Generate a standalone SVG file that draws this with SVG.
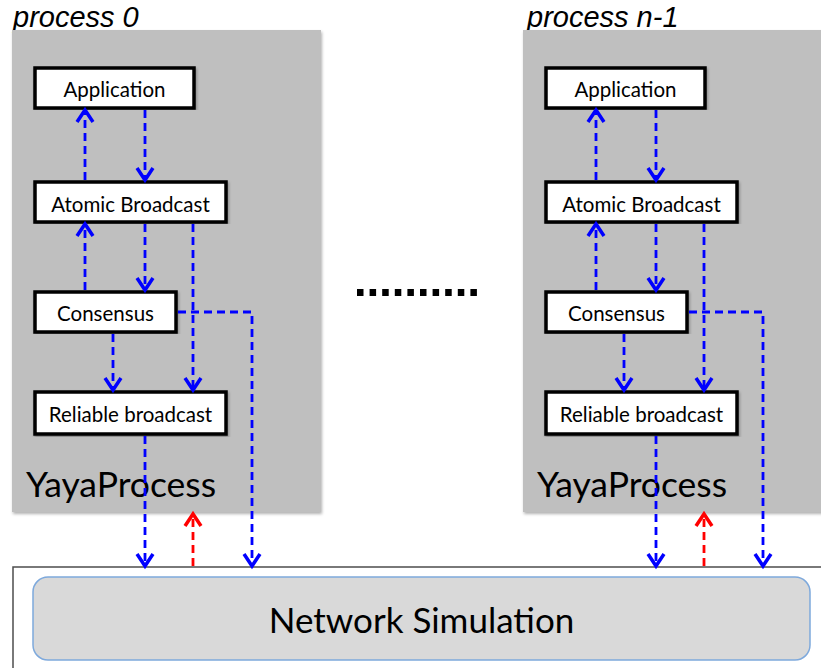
<svg xmlns="http://www.w3.org/2000/svg" width="821" height="668" viewBox="0 0 821 668">
  <defs>
    <style>
      .panel { fill: #bfbfbf; }
      .title { font-family: "Liberation Sans", Arial, sans-serif; font-style: italic; font-size: 29px; fill: #000; }
      .big { font-family: Lato, "Open Sans", sans-serif; font-size: 35.5px; fill: #000; }
      .box { fill: #fff; stroke: #000; stroke-width: 3.5; }
      .lbl { font-family: Lato, "Open Sans", sans-serif; font-size: 20.5px; fill: #000; text-anchor: middle; }
      .net-frame { fill: #fff; stroke: #4d4d4d; stroke-width: 1.5; }
      .net { fill: #d9d9d9; stroke: #7ea9dc; stroke-width: 1.5; }
      .net-lbl { font-family: Lato, "Open Sans", sans-serif; font-size: 35px; fill: #000; text-anchor: middle; }
      .blue { fill: none; stroke: #0000ff; stroke-width: 2.8; stroke-dasharray: 8 5; }
      .red { fill: none; stroke: #ff0000; stroke-width: 2.8; stroke-dasharray: 8 5; }
      .dots { stroke: #000; stroke-width: 7; stroke-dasharray: 6.5 6.1; }
    </style>
    <filter id="shadow" x="-5%" y="-5%" width="110%" height="110%">
      <feDropShadow dx="1" dy="2" stdDeviation="1.5" flood-color="#000" flood-opacity="0.3"/>
    </filter>
    <marker id="head-blue" markerUnits="userSpaceOnUse" viewBox="-14 -10 16 20" refX="0" refY="0" markerWidth="16" markerHeight="20" orient="auto" overflow="visible">
      <path d="M -12 -8 L 0 0 L -12 8" fill="none" stroke="#0000ff" stroke-width="3.5"/>
    </marker>
    <marker id="head-red" markerUnits="userSpaceOnUse" viewBox="-14 -10 16 20" refX="0" refY="0" markerWidth="16" markerHeight="20" orient="auto" overflow="visible">
      <path d="M -12 -8 L 0 0 L -12 8" fill="none" stroke="#ff0000" stroke-width="3.5"/>
    </marker>
  </defs>

  <rect width="821" height="668" fill="#fff"/>

  <!-- network simulation layer -->
  <g id="network">
    <rect class="net-frame" x="13" y="567" width="830" height="120"/>
    <rect class="net" x="33" y="577" width="777" height="83" rx="15" ry="15"/>
    <text class="net-lbl" x="421.5" y="633">Network Simulation</text>
  </g>

  <!-- process containers -->
  <g id="process-0">
    <text class="title" x="13" y="27">process 0</text>
    <rect class="panel" x="12" y="30" width="309" height="482" filter="url(#shadow)"/>
    <text class="big" x="26" y="497">YayaProcess</text>
  </g>
  <g id="process-n-1">
    <text class="title" x="527" y="27">process n-1</text>
    <rect class="panel" x="523" y="30" width="320" height="482" filter="url(#shadow)"/>
    <text class="big" x="537" y="497">YayaProcess</text>
  </g>

  <!-- ellipsis between processes -->
  <line class="dots" x1="357" y1="292.5" x2="480" y2="292.5"/>

  <!-- layers of process 0 -->
  <g id="p0-application">
    <rect class="box" x="35" y="68" width="159" height="40" filter="url(#shadow)"/>
    <text class="lbl" x="114.5" y="97">Application</text>
  </g>
  <g id="p0-atomic">
    <rect class="box" x="35" y="182" width="191" height="40" filter="url(#shadow)"/>
    <text class="lbl" x="130.5" y="211.5">Atomic Broadcast</text>
  </g>
  <g id="p0-consensus">
    <rect class="box" x="35" y="292" width="141" height="40" filter="url(#shadow)"/>
    <text class="lbl" x="105.5" y="320.5">Consensus</text>
  </g>
  <g id="p0-reliable">
    <rect class="box" x="35" y="392" width="191" height="42" filter="url(#shadow)"/>
    <text class="lbl" x="130.5" y="421.5">Reliable broadcast</text>
  </g>

  <!-- layers of process n-1 -->
  <g id="pn-application">
    <rect class="box" x="546" y="68" width="159" height="40" filter="url(#shadow)"/>
    <text class="lbl" x="625.5" y="97">Application</text>
  </g>
  <g id="pn-atomic">
    <rect class="box" x="546" y="182" width="191" height="40" filter="url(#shadow)"/>
    <text class="lbl" x="641.5" y="211.5">Atomic Broadcast</text>
  </g>
  <g id="pn-consensus">
    <rect class="box" x="546" y="292" width="141" height="40" filter="url(#shadow)"/>
    <text class="lbl" x="616.5" y="320.5">Consensus</text>
  </g>
  <g id="pn-reliable">
    <rect class="box" x="546" y="392" width="191" height="42" filter="url(#shadow)"/>
    <text class="lbl" x="641.5" y="421.5">Reliable broadcast</text>
  </g>

  <!-- message flows -->
  <g id="connectors">
    <!-- process 0 -->
    <path class="blue" d="M 85 180 L 85 110" marker-end="url(#head-blue)"/>
    <path class="blue" d="M 145 110 L 145 180" marker-end="url(#head-blue)"/>
    <path class="blue" d="M 85 290 L 85 224" marker-end="url(#head-blue)"/>
    <path class="blue" d="M 145 224 L 145 290" marker-end="url(#head-blue)"/>
    <path class="blue" d="M 193 224 L 193 390" marker-end="url(#head-blue)"/>
    <path class="blue" d="M 113 334 L 113 390" marker-end="url(#head-blue)"/>
    <path class="blue" d="M 178 312 L 252 312 L 252 566" marker-end="url(#head-blue)"/>
    <path class="blue" d="M 145 436 L 145 566" marker-end="url(#head-blue)"/>
    <path class="red" d="M 193 566 L 193 514" marker-end="url(#head-red)"/>
    <!-- process n-1 -->
    <path class="blue" d="M 596 180 L 596 110" marker-end="url(#head-blue)"/>
    <path class="blue" d="M 656 110 L 656 180" marker-end="url(#head-blue)"/>
    <path class="blue" d="M 596 290 L 596 224" marker-end="url(#head-blue)"/>
    <path class="blue" d="M 656 224 L 656 290" marker-end="url(#head-blue)"/>
    <path class="blue" d="M 704 224 L 704 390" marker-end="url(#head-blue)"/>
    <path class="blue" d="M 624 334 L 624 390" marker-end="url(#head-blue)"/>
    <path class="blue" d="M 689 312 L 763 312 L 763 566" marker-end="url(#head-blue)"/>
    <path class="blue" d="M 656 436 L 656 566" marker-end="url(#head-blue)"/>
    <path class="red" d="M 704 566 L 704 514" marker-end="url(#head-red)"/>
  </g>
</svg>
